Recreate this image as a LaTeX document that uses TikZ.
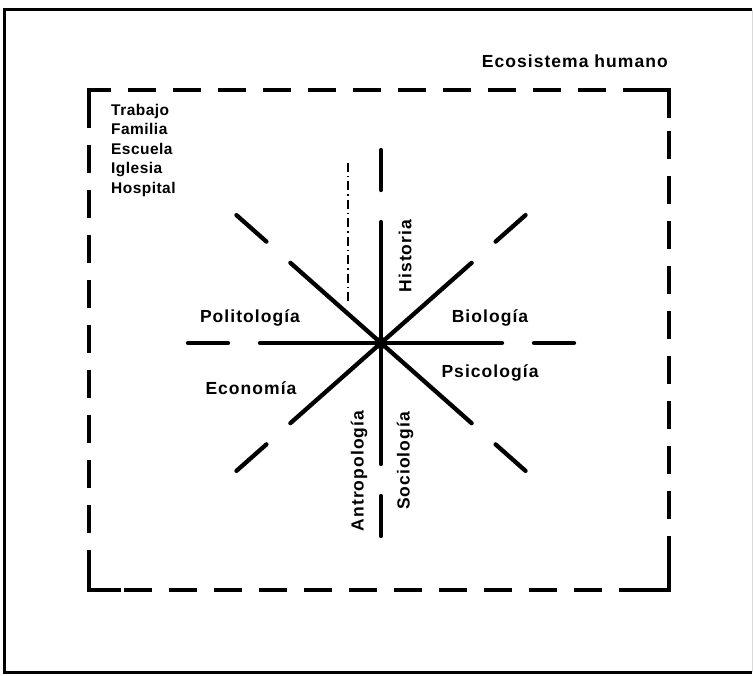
\documentclass[tikz,border=0pt]{standalone}
\usepackage{fontspec}
\setmainfont{Liberation Sans}[LetterSpace=6]
\newfontfamily\listfont{Liberation Sans}[LetterSpace=3]
\usetikzlibrary{calc}
\begin{document}
\begin{tikzpicture}[x=1pt,y=-1pt,
  lbl/.style={font=\bfseries\fontsize{17.5}{21}\selectfont, inner sep=0pt},
  listlbl/.style={font=\listfont\bfseries\fontsize{15.5}{19.5}\selectfont, inner sep=0pt},
  ray/.style={line width=4.3pt, line cap=round},
  boxside/.style={line width=4pt, dash pattern=on 28pt off 17pt},
  boxcorner/.style={line width=4pt, line cap=butt},
  frame/.style={line width=3pt}]
  \useasboundingbox (0,0) rectangle (753,676);

  % outer frame
  \draw[frame] (752,10) -- (4,10) -- (4,672) -- (752,672);
  \draw[line width=1pt, black!15] (752,10) -- (752,672);

  % dashed boundary of the human ecosystem
  \coordinate (TL) at (89,90);
  \coordinate (TR) at (669,90);
  \coordinate (BR) at (669,590);
  \coordinate (BL) at (89,590);
  \draw[boxside, dash phase=6pt] (TL) -- (TR);
  \draw[boxside, dash phase=4pt] (TR) -- (BR);
  \draw[boxside, dash phase=10pt] (BL) -- (BR);
  \draw[boxside, dash phase=-10pt] (TL) -- (BL);
  \draw[boxcorner] ($(TL)+(0,14)$) -- (TL) -- ($(TL)+(14,0)$);
  \draw[boxcorner] ($(TR)+(-38,0)$) -- (TR) -- ($(TR)+(0,28)$);
  \draw[boxcorner] ($(BR)+(-22,0)$) -- (BR) -- ($(BR)+(0,-26)$);
  \draw[boxcorner] ($(BL)+(32,0)$) -- (BL) -- ($(BL)+(0,-30)$);

  \node[lbl, anchor=base east] (eco) at (668,68) {Ecosistema humano};

  \node[listlbl, anchor=north west, align=left] (inst) at (111,104)
    {Trabajo\\Familia\\Escuela\\Iglesia\\Hospital};

  % centre and the eight disciplines radiating from it
  \node[circle, fill, minimum size=12pt, inner sep=0pt] (C) at (381,343) {};
  \foreach \a in {0,41.5,90,138.5,180,221.5,270,318.5}{
    \draw[ray] (C.center) -- ($(C.center)+(\a:121)$);
    \draw[ray] ($(C.center)+(\a:153)$) -- ($(C.center)+(\a:193)$);
  }

  % thin dash-dot guide beside the vertical axis
  \coordinate (g1) at (348,163);
  \coordinate (g2) at (348,304);
  \draw[line width=1.3pt, dash pattern=on 9pt off 4pt on 1.5pt off 4pt] (g1) -- (g2);

  \node[lbl] (pol) at (250,318) {Politología};
  \node[lbl] (bio) at (490,318) {Biología};
  \node[lbl] (psi) at (490,373) {Psicología};
  \node[lbl] (eco2) at (251,388) {Economía};
  \node[lbl, rotate=90] (his) at (405,256) {Historia};
  \node[lbl, rotate=90] (ant) at (359,471) {Antropología};
  \node[lbl, rotate=90] (soc) at (405,461) {Sociología};
\end{tikzpicture}
\end{document}
